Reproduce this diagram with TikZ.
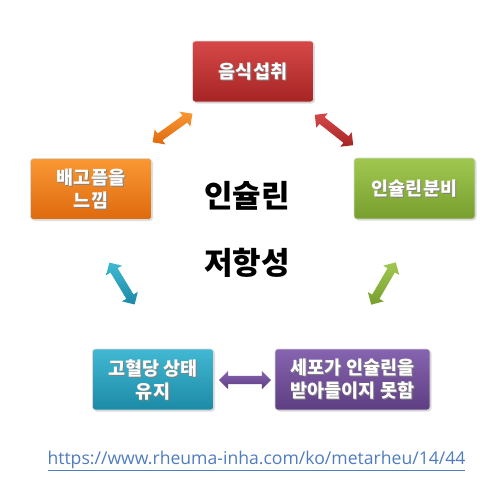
\documentclass[tikz,border=0pt]{standalone}
\usepackage{fontspec}
\setmainfont{Noto Sans CJK KR}
\newfontfamily\urlfont{Open Sans}
\usetikzlibrary{shapes.arrows,shadows}
\definecolor{redT}{RGB}{214,72,72}
\definecolor{redB}{RGB}{166,36,36}
\definecolor{orT}{RGB}{250,152,52}
\definecolor{orB}{RGB}{222,106,14}
\definecolor{grT}{RGB}{160,200,80}
\definecolor{grB}{RGB}{120,158,46}
\definecolor{teT}{RGB}{66,184,210}
\definecolor{teB}{RGB}{28,138,166}
\definecolor{puT}{RGB}{134,100,176}
\definecolor{puB}{RGB}{94,62,130}
\definecolor{urlblue}{RGB}{79,124,190}
\newcommand\shd[1]{\leavevmode\rlap{\raisebox{-1pt}[0pt][0pt]{\hspace{1pt}\textcolor{black!50}{#1}}}#1}
\tikzset{
  box/.style={rounded corners=3pt, minimum width=121pt, minimum height=61pt,
    inner sep=0pt, align=center, text=white,
    font=\fontsize{18.5}{23}\selectfont\bfseries,
    draw=white!85!black, line width=0.6pt,
    drop shadow={shadow xshift=1.5pt, shadow yshift=-1.5pt, opacity=0.25}},
  darrow/.style={double arrow, minimum height=49pt, inner xsep=0pt, inner ysep=4pt,
    double arrow head extend=5pt, double arrow head indent=0pt,
    double arrow tip angle=90, draw=none},
  bigtext/.style={font=\fontsize{31}{31}\selectfont\bfseries, text=black}
}
\begin{document}
\begin{tikzpicture}[x=1pt,y=-1pt]
\useasboundingbox (0,0) rectangle (500,491);
\node[box, top color=redT, bottom color=redB] (eat) at (253,71.5) {\shd{음식섭취}};
\node[box, top color=orT, bottom color=orB] (hun) at (91,189) {\shd{배고픔을}\\\shd{느낌}};
\node[box, top color=grT, bottom color=grB] (sec) at (414.5,188.5) {\shd{인슐린분비}};
\node[box, top color=teT, bottom color=teB] (hig) at (153,379.5) {\shd{고혈당 상태}\\\shd{유지}};
\node[box, top color=puT, bottom color=puB, minimum width=155pt] (cel) at (352.5,379.5) {\shd{세포가 인슐린을}\\\shd{받아들이지 못함}};
\node[bigtext] (t1) at (247,196) {인슐린};
\node[bigtext] (t2) at (247,263) {저항성};
\coordinate (a1) at (153,142);
\coordinate (a2) at (192,114);
\coordinate (b1) at (315,115);
\coordinate (b2) at (353,145);
\coordinate (c1) at (109,262);
\coordinate (c2) at (135,305);
\coordinate (d1) at (396,262);
\coordinate (d2) at (371,305);
\coordinate (e1) at (219,380);
\coordinate (e2) at (271,380);
\path (a1) -- (a2) node[midway, sloped, darrow, top color=orT, bottom color=orB] (ar1) {};
\path (b1) -- (b2) node[midway, sloped, darrow, top color=redT, bottom color=redB] (ar2) {};
\path (c1) -- (c2) node[midway, sloped, darrow, top color=teT, bottom color=teB] (ar3) {};
\path (d1) -- (d2) node[midway, sloped, darrow, top color=grT, bottom color=grB] (ar4) {};
\path (e1) -- (e2) node[midway, sloped, darrow, top color=puT, bottom color=puB, minimum height=52pt] (ar5) {};
\node[font=\urlfont\fontsize{17.6}{17.6}\selectfont, text=urlblue] (url) at (256.5,461) {\underline{https://www.rheuma-inha.com/ko/metarheu/14/44}};
\end{tikzpicture}
\end{document}
